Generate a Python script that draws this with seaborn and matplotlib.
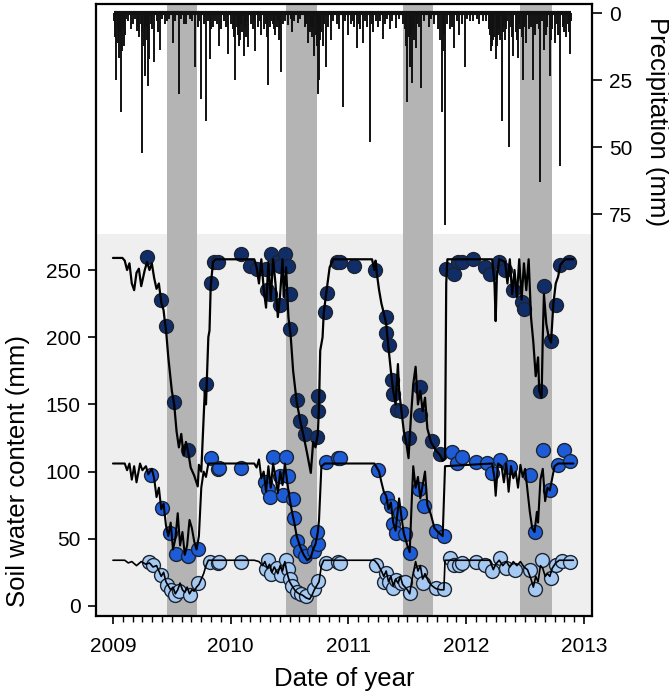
import numpy as np
import pandas as pd
import matplotlib
matplotlib.use("Agg")
import matplotlib.pyplot as plt
import seaborn as sns

# ---- daily precipitation (decimal year, mm) ----
rain_dates = [
    2009.005, 2009.015, 2009.02, 2009.03, 2009.04, 2009.045, 2009.05, 2009.055, 2009.06, 2009.07,
    2009.075, 2009.08, 2009.085, 2009.09, 2009.095, 2009.10, 2009.11, 2009.13, 2009.15, 2009.17,
    2009.19, 2009.20, 2009.215, 2009.225, 2009.235, 2009.245, 2009.25, 2009.26, 2009.27, 2009.28,
    2009.29, 2009.30, 2009.31, 2009.32, 2009.33, 2009.35, 2009.37, 2009.38, 2009.40, 2009.42,
    2009.44, 2009.46, 2009.48, 2009.51, 2009.53, 2009.56, 2009.58, 2009.60, 2009.62, 2009.65,
    2009.67, 2009.70, 2009.72, 2009.73, 2009.75, 2009.77, 2009.79, 2009.81, 2009.82, 2009.835,
    2009.85, 2009.87, 2009.88, 2009.90, 2009.92, 2009.94, 2009.96, 2009.98,
    2010.00, 2010.02, 2010.03, 2010.04, 2010.05, 2010.06, 2010.07, 2010.08, 2010.09, 2010.10,
    2010.11, 2010.12, 2010.13, 2010.14, 2010.15, 2010.17, 2010.19, 2010.20, 2010.21, 2010.23,
    2010.25, 2010.26, 2010.28, 2010.30, 2010.31, 2010.32, 2010.33, 2010.34, 2010.36, 2010.37,
    2010.38, 2010.39, 2010.40, 2010.41, 2010.42, 2010.43, 2010.44, 2010.46, 2010.49, 2010.51,
    2010.52, 2010.54, 2010.57, 2010.59, 2010.63, 2010.64, 2010.66, 2010.67, 2010.68, 2010.69,
    2010.70, 2010.71, 2010.72, 2010.73, 2010.74, 2010.75, 2010.76, 2010.77, 2010.78, 2010.79,
    2010.81, 2010.83, 2010.85, 2010.87, 2010.90, 2010.92, 2010.95, 2010.97,
    2011.00, 2011.02, 2011.04, 2011.05, 2011.07, 2011.09, 2011.10, 2011.12, 2011.14, 2011.16,
    2011.18, 2011.20, 2011.21, 2011.23, 2011.25, 2011.27, 2011.29, 2011.31, 2011.33, 2011.35,
    2011.37, 2011.40, 2011.43, 2011.46, 2011.48, 2011.49, 2011.50, 2011.51, 2011.52, 2011.53,
    2011.54, 2011.55, 2011.56, 2011.57, 2011.58, 2011.60, 2011.62, 2011.64, 2011.68, 2011.70,
    2011.73, 2011.76, 2011.78, 2011.79, 2011.80, 2011.81, 2011.82, 2011.84, 2011.86, 2011.88,
    2011.90, 2011.92, 2011.94, 2011.96, 2011.99,
    2012.01, 2012.03, 2012.06, 2012.09, 2012.11, 2012.14, 2012.17, 2012.19, 2012.20, 2012.21,
    2012.22, 2012.23, 2012.24, 2012.25, 2012.26, 2012.27, 2012.28, 2012.29, 2012.30, 2012.31,
    2012.32, 2012.33, 2012.34, 2012.35, 2012.36, 2012.38, 2012.39, 2012.40, 2012.42, 2012.43,
    2012.44, 2012.45, 2012.46, 2012.47, 2012.48, 2012.49, 2012.50, 2012.51, 2012.53, 2012.55,
    2012.57, 2012.58, 2012.60, 2012.62, 2012.63, 2012.64, 2012.66, 2012.68, 2012.69, 2012.71,
    2012.72, 2012.73, 2012.75, 2012.77, 2012.78, 2012.80, 2012.82, 2012.83, 2012.85, 2012.86,
    2012.87, 2012.88, 2012.89,
]
rain_mm = [
    3, 5, 9, 25, 6, 11, 16.5, 4, 7, 37,
    5, 14, 3, 12, 6, 8, 2, 3, 6, 4,
    2, 6.5, 5, 9, 4, 7, 52, 12, 23.5, 5,
    10, 27, 17, 4, 6, 18, 3, 7, 13.5, 2,
    4, 3, 2, 11, 3, 30, 2, 4, 4, 2,
    3, 20, 5, 3, 32, 4, 40, 3, 17, 6,
    5, 3, 4, 12, 6, 3, 5, 15,
    4, 6, 9, 24.7, 5, 8, 12, 10, 4, 7,
    16, 5, 9, 3, 12.5, 4, 6, 3, 14, 5,
    3, 8, 6, 4, 9, 26.6, 5, 3, 4, 6,
    8, 5, 3, 10, 6, 22, 4, 3, 4.5, 2,
    7, 3, 3.5, 2, 5, 4, 11, 7, 5, 9,
    6, 16, 8, 12, 30, 25, 10, 7, 12, 4,
    20, 5, 10, 3, 4, 6, 35, 3,
    8, 4, 3, 5, 13, 4, 6, 11, 3, 5,
    48, 4, 7, 3, 5, 3, 9.5, 4, 2, 6,
    3, 5.5, 2, 4, 6, 12, 33, 9, 20, 8,
    26, 6, 10, 13, 4, 5, 28, 3, 5, 2,
    4, 6, 10, 37, 14, 8, 79, 4, 6, 5,
    13, 3, 8, 4, 20,
    2, 3, 3, 2, 4, 3, 3, 6, 8, 14,
    12, 10, 9, 17, 12, 8, 6, 10, 40, 7,
    5, 10, 6, 3, 50, 5, 9, 16, 7, 10,
    16.5, 4, 6, 9, 24.7, 5, 4, 11, 6, 5,
    24.7, 8, 4, 6, 63, 3, 13.5, 8, 5, 23.5,
    10, 6, 11, 4, 8, 57, 5, 7, 9, 4,
    7, 15, 3,
]

# ---- dry-season windows (decimal year) ----
dry_start = [2009.46, 2010.47, 2011.46, 2012.46]
dry_end = [2009.715, 2010.73, 2011.72, 2012.73]

# ---- simulated soil water content (mm), three layers ----
sim_deep_t = [
    2009.00, 2009.08, 2009.10, 2009.12, 2009.14, 2009.16, 2009.18, 2009.20, 2009.22, 2009.24,
    2009.27, 2009.29, 2009.31, 2009.33, 2009.35, 2009.37, 2009.39, 2009.41, 2009.43, 2009.44,
    2009.45, 2009.47, 2009.50, 2009.52, 2009.54, 2009.56, 2009.58, 2009.60, 2009.62, 2009.64,
    2009.66, 2009.69, 2009.72, 2009.73, 2009.75, 2009.77, 2009.78, 2009.79, 2009.80, 2009.81,
    2009.82, 2009.83, 2009.85, 2009.87,
    2010.20, 2010.22, 2010.24, 2010.26, 2010.28, 2010.30, 2010.32, 2010.34, 2010.36, 2010.38,
    2010.40, 2010.42, 2010.44, 2010.45, 2010.47, 2010.49, 2010.51, 2010.53, 2010.56, 2010.59,
    2010.62, 2010.65, 2010.68, 2010.70, 2010.72, 2010.74, 2010.75, 2010.76, 2010.78, 2010.79,
    2010.81, 2010.84, 2010.87,
    2011.20, 2011.22, 2011.23, 2011.24, 2011.26, 2011.28, 2011.30, 2011.32, 2011.34, 2011.36,
    2011.38, 2011.40, 2011.42, 2011.43, 2011.45, 2011.47, 2011.49, 2011.51, 2011.53, 2011.55,
    2011.57, 2011.59, 2011.61, 2011.63, 2011.65, 2011.67, 2011.70, 2011.74, 2011.78, 2011.80,
    2011.82, 2011.83, 2011.84,
    2012.22, 2012.24, 2012.25, 2012.26, 2012.28, 2012.33, 2012.35, 2012.37, 2012.39, 2012.41,
    2012.43, 2012.45, 2012.47, 2012.49, 2012.51, 2012.53, 2012.55, 2012.57, 2012.59, 2012.61,
    2012.62, 2012.64, 2012.65, 2012.66, 2012.68, 2012.70, 2012.72, 2012.74, 2012.76, 2012.78,
    2012.80, 2012.84, 2012.91,
]
sim_deep_v = [
    259, 259, 257, 250, 255, 240, 235, 248, 251, 238,
    250, 256, 250, 255, 244, 236, 240, 226, 220, 212,
    206, 185, 160, 150, 130, 118, 128, 112, 122, 114,
    103, 97, 89, 105, 100, 140, 160, 150, 175, 200,
    205, 238, 256, 258,
    258, 252, 240, 258, 236, 222, 256, 228, 258, 240,
    215, 232, 258, 230, 252, 215, 200, 175, 152, 138,
    126, 113, 99, 122, 118, 128, 150, 190, 200, 218,
    232, 252, 258,
    258, 250, 257, 248, 235, 225, 218, 210, 192, 175,
    160, 150, 180, 160, 145, 130, 122, 110, 140, 165,
    178, 150, 160, 145, 155, 132, 122, 116, 112, 108,
    110, 240, 258,
    258, 240, 212, 245, 258, 256, 240, 258, 232, 250,
    230, 258, 228, 255, 235, 258, 215, 196, 171, 185,
    160, 155, 200, 232, 210, 200, 196, 225, 240, 245,
    254, 258, 258,
]

sim_mid_t = [
    2009.00, 2009.10, 2009.12, 2009.14, 2009.16, 2009.18, 2009.20, 2009.23, 2009.25, 2009.28,
    2009.30, 2009.33, 2009.35, 2009.37, 2009.39, 2009.41, 2009.43, 2009.45, 2009.47, 2009.49,
    2009.51, 2009.53, 2009.55, 2009.57, 2009.59, 2009.61, 2009.63, 2009.65, 2009.67, 2009.69,
    2009.71, 2009.73, 2009.75, 2009.77, 2009.79, 2009.81,
    2010.20, 2010.22, 2010.24, 2010.26, 2010.28, 2010.30, 2010.32, 2010.34, 2010.36, 2010.38,
    2010.40, 2010.42, 2010.44, 2010.46, 2010.48, 2010.50, 2010.52, 2010.54, 2010.56, 2010.59,
    2010.62, 2010.65, 2010.68, 2010.70, 2010.72, 2010.74, 2010.75, 2010.77, 2010.80,
    2011.22, 2011.24, 2011.26, 2011.28, 2011.30, 2011.32, 2011.34, 2011.36, 2011.38, 2011.40,
    2011.42, 2011.43, 2011.45, 2011.47, 2011.50, 2011.52, 2011.54, 2011.55, 2011.57, 2011.59,
    2011.61, 2011.63, 2011.65, 2011.67, 2011.70, 2011.73, 2011.76, 2011.80, 2011.82,
    2012.22, 2012.24, 2012.25, 2012.27, 2012.30, 2012.32, 2012.34, 2012.36, 2012.38, 2012.40,
    2012.42, 2012.44, 2012.46, 2012.48, 2012.50, 2012.52, 2012.54, 2012.56, 2012.58, 2012.60,
    2012.61, 2012.63, 2012.65, 2012.67, 2012.69, 2012.71, 2012.73, 2012.75, 2012.78, 2012.91,
]
sim_mid_v = [
    106, 106, 101, 106, 94, 104, 92, 106, 101, 104,
    98, 102, 95, 81, 88, 72, 76, 60, 52, 62,
    42, 50, 69, 45, 55, 38, 45, 64, 58, 48,
    42, 52, 88, 100, 96, 106,
    106, 103, 109, 95, 100, 85, 104, 88, 106, 96,
    84, 100, 90, 106, 92, 80, 70, 62, 52, 44,
    38, 34, 36, 42, 46, 55, 64, 104, 106,
    106, 103, 100, 92, 85, 82, 72, 77, 62, 56,
    72, 80, 66, 54, 45, 40, 84, 104, 88, 96,
    80, 90, 100, 75, 68, 58, 55, 52, 104,
    106, 95, 82, 106, 104, 92, 106, 85, 104, 95,
    100, 88, 105, 96, 102, 86, 70, 58, 55, 70,
    62, 94, 102, 78, 88, 86, 95, 104, 106, 106,
]

sim_shallow_t = [
    2009.00, 2009.10, 2009.13, 2009.16, 2009.20, 2009.24, 2009.28, 2009.31, 2009.34, 2009.37,
    2009.39, 2009.41, 2009.43, 2009.45, 2009.47, 2009.49, 2009.51, 2009.53, 2009.55, 2009.57,
    2009.59, 2009.61, 2009.63, 2009.65, 2009.67, 2009.69, 2009.71, 2009.73, 2009.75, 2009.77,
    2009.79, 2009.81,
    2010.20, 2010.24, 2010.27, 2010.29, 2010.31, 2010.33, 2010.35, 2010.37, 2010.40, 2010.42,
    2010.44, 2010.46, 2010.48, 2010.50, 2010.52, 2010.55, 2010.58, 2010.61, 2010.64, 2010.67,
    2010.69, 2010.71, 2010.73, 2010.75, 2010.77, 2010.79,
    2011.22, 2011.25, 2011.28, 2011.30, 2011.32, 2011.34, 2011.36, 2011.38, 2011.40, 2011.42,
    2011.44, 2011.46, 2011.48, 2011.50, 2011.52, 2011.54, 2011.57, 2011.59, 2011.61, 2011.63,
    2011.65, 2011.68, 2011.71, 2011.74, 2011.78, 2011.81, 2011.82,
    2012.20, 2012.23, 2012.25, 2012.28, 2012.31, 2012.34, 2012.37, 2012.40, 2012.43, 2012.46,
    2012.49, 2012.52, 2012.55, 2012.57, 2012.59, 2012.61, 2012.63, 2012.65, 2012.67, 2012.69,
    2012.71, 2012.73, 2012.76, 2012.79, 2012.91,
]
sim_shallow_v = [
    34, 34, 32, 33, 30, 33, 31, 32, 29, 30,
    26, 22, 25, 18, 15, 12, 14, 9, 12, 17,
    12, 10, 14, 9, 12, 11, 14, 16, 20, 24,
    30, 34,
    34, 33, 30, 33, 28, 31, 25, 29, 24, 30,
    26, 33, 24, 18, 15, 11, 9, 8, 6, 5,
    8, 12, 15, 18, 30, 34,
    34, 31, 26, 22, 26, 18, 22, 15, 20, 17,
    22, 16, 14, 12, 9, 20, 33, 26, 30, 20,
    24, 18, 15, 13, 12, 12, 34,
    34, 27, 31, 34, 30, 33, 29, 33, 30, 33,
    29, 27, 20, 14, 22, 18, 30, 28, 22, 24,
    22, 28, 32, 34, 34,
]

# ---- measured soil water content (mm) ----
obs_deep_t = [
    2009.29, 2009.41, 2009.45, 2009.52, 2009.634, 2009.79, 2009.83, 2009.86, 2009.89,
    2010.09, 2010.16, 2010.22, 2010.30, 2010.31, 2010.33, 2010.34, 2010.39, 2010.42, 2010.42,
    2010.46, 2010.49, 2010.50, 2010.50, 2010.56, 2010.59, 2010.63, 2010.735, 2010.74, 2010.745,
    2010.80, 2010.82, 2010.90,
    2010.93, 2011.05, 2011.225, 2011.32, 2011.32, 2011.34, 2011.37, 2011.38, 2011.41, 2011.45,
    2011.51, 2011.61, 2011.61, 2011.71, 2011.78, 2011.83, 2011.90, 2011.93,
    2011.96, 2012.06, 2012.16, 2012.20, 2012.28, 2012.33, 2012.40, 2012.47, 2012.49, 2012.63,
    2012.66, 2012.72, 2012.76, 2012.80, 2012.87,
]
obs_deep_v = [
    260, 228, 208, 152, 116, 165, 240, 256, 256,
    262, 253, 251, 251, 235, 232, 262, 256, 253, 224,
    262, 253, 232, 206, 153, 138, 128, 126, 145, 156,
    219, 233, 256,
    256, 253, 250, 215, 203, 194, 168, 158, 146, 145,
    125, 163, 142, 123, 113, 251, 247, 256,
    256, 258, 252, 247, 256, 250, 235, 226, 221, 160,
    238, 197, 224, 254, 256,
]

obs_mid_t = [
    2009.32, 2009.42, 2009.484, 2009.535, 2009.634, 2009.72, 2009.83, 2009.89,
    2009.90, 2010.09, 2010.29, 2010.32, 2010.33, 2010.36, 2010.42, 2010.44, 2010.47, 2010.49,
    2010.53, 2010.54, 2010.565, 2010.59, 2010.633, 2010.71, 2010.74, 2010.735, 2010.81, 2010.91,
    2010.93, 2011.25, 2011.33, 2011.36, 2011.38, 2011.40, 2011.44, 2011.48, 2011.52, 2011.60,
    2011.64, 2011.74, 2011.81, 2011.88, 2011.92, 2011.96,
    2012.08, 2012.18, 2012.22, 2012.29, 2012.37, 2012.54, 2012.58, 2012.65, 2012.71, 2012.78,
    2012.83, 2012.88,
]
obs_mid_v = [
    97.5, 72.7, 54.5, 39, 37, 42, 110, 102,
    103, 103, 92, 87, 81, 110.6, 96.7, 82.4, 110.6, 96.7,
    79.4, 65.8, 48.3, 41, 37, 41, 46, 55, 107.4, 110,
    110, 101, 80.6, 74.4, 60.8, 54.6, 69.4, 53.3, 39.7, 87,
    74.4, 55.9, 52.1, 114.8, 106.2, 111,
    107.4, 106.2, 98.8, 108.7, 103.7, 97.5, 55, 116, 86.2, 105,
    116, 107.7,
]

obs_shallow_t = [
    2009.31, 2009.34, 2009.41, 2009.46, 2009.49, 2009.53, 2009.56, 2009.65, 2009.72, 2009.82,
    2009.89, 2009.90, 2010.09, 2010.30, 2010.32, 2010.34, 2010.39, 2010.43, 2010.47, 2010.49,
    2010.50, 2010.52, 2010.56, 2010.60, 2010.64, 2010.71, 2010.74, 2010.81, 2010.91,
    2010.93, 2011.23, 2011.30, 2011.32, 2011.34, 2011.38, 2011.40, 2011.45, 2011.48, 2011.52,
    2011.61, 2011.63, 2011.74, 2011.81, 2011.86, 2011.90, 2011.94,
    2011.96, 2012.08, 2012.16, 2012.22, 2012.29, 2012.34, 2012.41, 2012.54, 2012.58, 2012.64,
    2012.72, 2012.76, 2012.81, 2012.88,
]
obs_shallow_v = [
    33, 30.5, 22.8, 15.4, 11.7, 8.5, 10.9, 8.3, 17, 33,
    31.7, 32.7, 32.7, 27.8, 34, 24, 28, 23, 34, 27.8,
    20, 15, 10, 8.8, 7.6, 12.7, 18.9, 32.3, 33,
    31.9, 30.7, 18, 24.3, 18, 13, 19.3, 16.8, 18, 9.9,
    25.6, 16.8, 13, 12.3, 35.9, 30.7, 30.7,
    32, 32.5, 30.7, 25.8, 36, 28, 27, 27, 12.5, 34.4,
    20.8, 30.7, 33.5, 32.5,
]

layers = ["deep", "mid", "shallow"]
dot_colors = {"deep": "#112d68", "mid": "#1d5cd6", "shallow": "#a6c9f1"}
line_widths = {"deep": 1.6, "mid": 1.5, "shallow": 1.2}

sim = pd.concat([
    pd.DataFrame({"date": sim_deep_t, "swc": sim_deep_v, "layer": "deep"}),
    pd.DataFrame({"date": sim_mid_t, "swc": sim_mid_v, "layer": "mid"}),
    pd.DataFrame({"date": sim_shallow_t, "swc": sim_shallow_v, "layer": "shallow"}),
], ignore_index=True)
obs = pd.concat([
    pd.DataFrame({"date": obs_deep_t, "swc": obs_deep_v, "layer": "deep"}),
    pd.DataFrame({"date": obs_mid_t, "swc": obs_mid_v, "layer": "mid"}),
    pd.DataFrame({"date": obs_shallow_t, "swc": obs_shallow_v, "layer": "shallow"}),
], ignore_index=True)
rain = pd.DataFrame({"date": rain_dates, "mm": rain_mm})

sns.set_theme(style="ticks")
plt.rcParams["font.family"] = ["Liberation Sans", "DejaVu Sans"]
plt.rcParams.update({"text.color": "black", "axes.labelcolor": "black",
                     "xtick.color": "black", "ytick.color": "black"})

fig = plt.figure(figsize=(6.69, 6.95), dpi=100)
ax = fig.add_axes([96 / 669, 1 - 616 / 695, 496 / 669, 612 / 695])

swc_lim = (-7.5, 448)
ax.set_ylim(*swc_lim)
ax.set_xlim(2008.856, 2013.068)

# light panel behind the soil-water traces
ax.axhspan(swc_lim[0], 277, color="#efefef", lw=0, zorder=0)
for s, e in zip(dry_start, dry_end):
    ax.axvspan(s, e, color="#b4b4b4", lw=0, zorder=0.5)

for layer in layers:
    sns.scatterplot(data=obs[obs["layer"] == layer], x="date", y="swc", ax=ax,
                    color=dot_colors[layer], edgecolor="#1b2433", linewidth=1.0,
                    s=100, zorder=3, legend=False)
for layer in layers:
    sns.lineplot(data=sim[sim["layer"] == layer], x="date", y="swc", ax=ax,
                 estimator=None, sort=False, color="black",
                 lw=line_widths[layer], zorder=4, legend=False)

ax.set_yticks([0, 50, 100, 150, 200, 250])
ax.set_xticks([2009, 2010, 2011, 2012, 2013])
ax.set_xticklabels(["2009", "2010", "2011", "2012", "2013"])
ax.set_xticks(np.arange(2009, 2013.001, 1 / 12), minor=True)
ax.tick_params(axis="both", which="major", direction="out", length=6, width=1.2,
               labelsize=15, color="black", labelcolor="black")
ax.tick_params(axis="x", which="major", pad=9)
ax.tick_params(axis="y", which="major", pad=5)
ax.tick_params(axis="x", which="minor", direction="out", length=4, width=1.0, color="black")
ax.set_xlabel("Date of year", fontsize=18.5, labelpad=8, color="black")
ax.set_ylabel("")
for sp in ax.spines.values():
    sp.set_linewidth(1.6)
    sp.set_color("black")
    sp.set_visible(True)

# precipitation hanging from the top on an inverted right axis
ax2 = ax.twinx()
ax2.set_ylim(225, -3.5)
ax2.vlines(rain["date"], 0, rain["mm"], color="#111111", lw=1.4, zorder=2)
ax2.hlines(0, rain["date"].min(), rain["date"].max(), color="#111111", lw=3.0, zorder=2)
ax2.set_yticks([0, 25, 50, 75])
ax2.tick_params(axis="y", direction="out", length=7, width=1.2, labelsize=15, pad=5,
                color="black", labelcolor="black")
ax2.set_ylabel("")
for sp in ax2.spines.values():
    sp.set_visible(False)

fig.text(18 / 669, 1 - 471 / 695, "Soil water content (mm)", rotation=90,
         ha="center", va="center", fontsize=18.5, color="black")
fig.text(657 / 669, 1 - 122 / 695, "Precipitation (mm)", rotation=270,
         ha="center", va="center", fontsize=18.5, color="black")

fig.savefig("out.png", dpi=100)
